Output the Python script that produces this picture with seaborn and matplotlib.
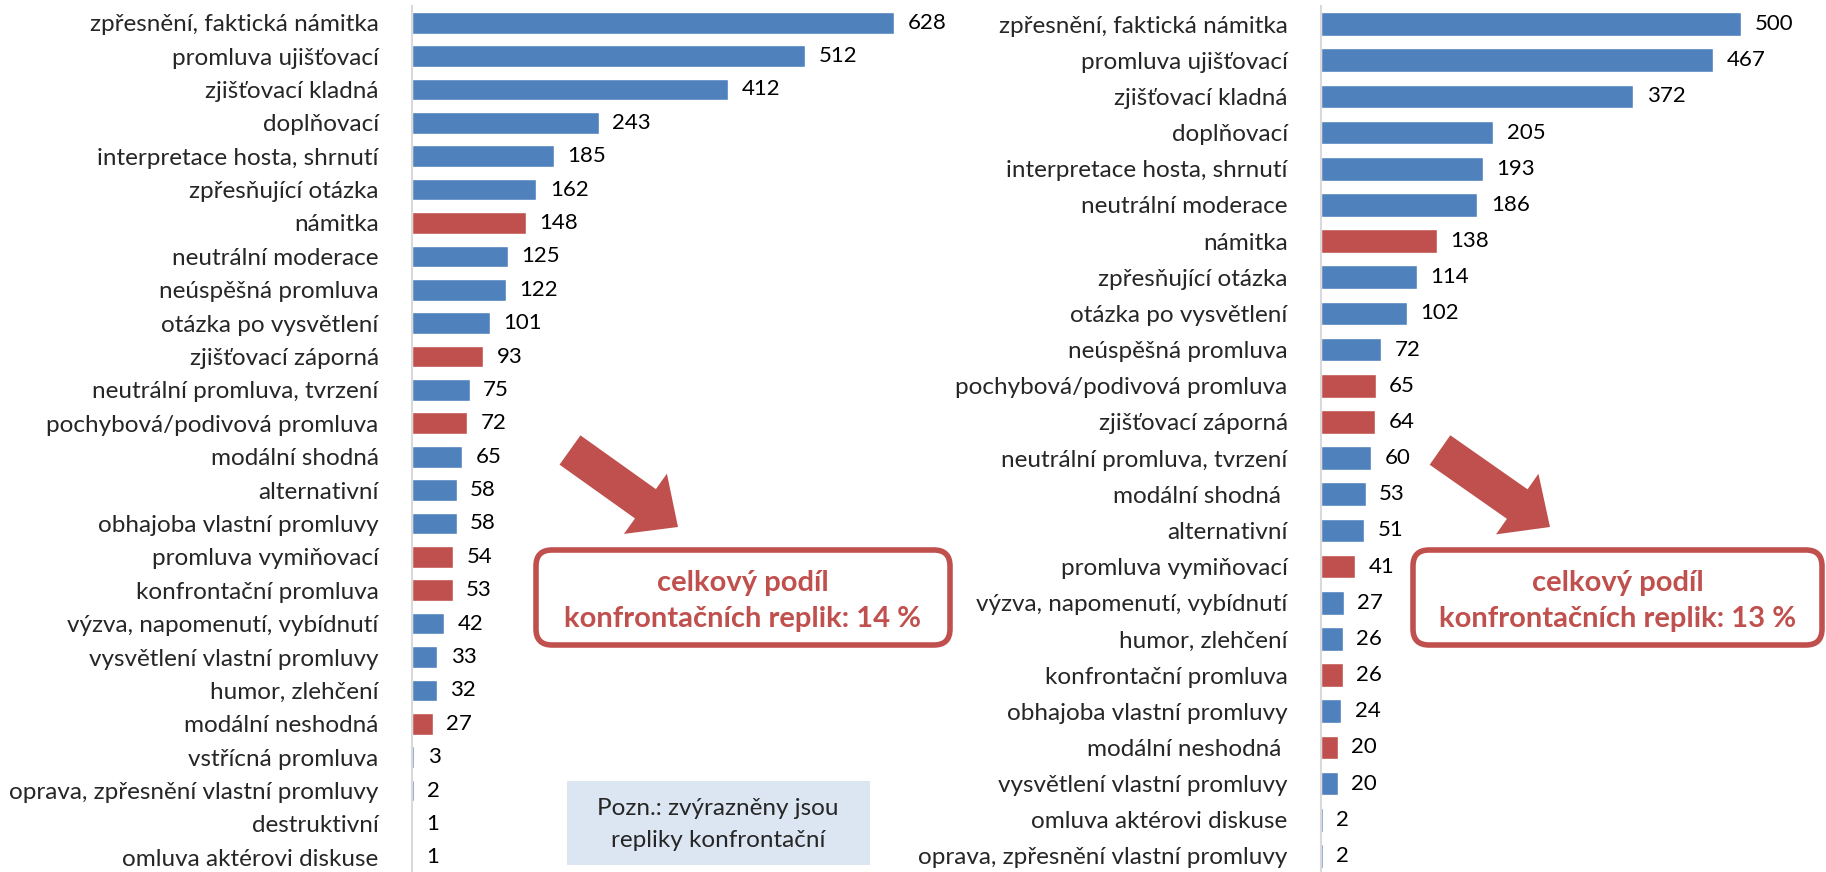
import matplotlib
matplotlib.use('Agg')
import matplotlib.pyplot as plt
import seaborn as sns
from matplotlib.patches import FancyArrow, FancyBboxPatch, Rectangle

BLUE = '#4F81BD'
RED = '#C0504D'

# left panel
left_labels = ['zpřesnění, faktická námitka', 'promluva ujišťovací', 'zjišťovací kladná',
               'doplňovací', 'interpretace hosta, shrnutí', 'zpřesňující otázka', 'námitka',
               'neutrální moderace', 'neúspěšná promluva', 'otázka po vysvětlení',
               'zjišťovací záporná', 'neutrální promluva, tvrzení', 'pochybová/podivová promluva',
               'modální shodná', 'alternativní', 'obhajoba vlastní promluvy', 'promluva vymiňovací',
               'konfrontační promluva', 'výzva, napomenutí, vybídnutí', 'vysvětlení vlastní promluvy',
               'humor, zlehčení', 'modální neshodná', 'vstřícná promluva',
               'oprava, zpřesnění vlastní promluvy', 'destruktivní', 'omluva aktérovi diskuse']
left_values = [628, 512, 412, 243, 185, 162, 148, 125, 122, 101, 93, 75, 72, 65, 58, 58, 54, 53,
               42, 33, 32, 27, 3, 2, 1, 1]
left_confront = [0, 0, 0, 0, 0, 0, 1, 0, 0, 0, 1, 0, 1, 0, 0, 0, 1, 1, 0, 0, 0, 1, 0, 0, 0, 0]

# right panel
right_labels = ['zpřesnění, faktická námitka', 'promluva ujišťovací', 'zjišťovací kladná',
                'doplňovací', 'interpretace hosta, shrnutí', 'neutrální moderace', 'námitka',
                'zpřesňující otázka', 'otázka po vysvětlení', 'neúspěšná promluva',
                'pochybová/podivová promluva', 'zjišťovací záporná', 'neutrální promluva, tvrzení',
                'modální shodná ', 'alternativní', 'promluva vymiňovací',
                'výzva, napomenutí, vybídnutí', 'humor, zlehčení', 'konfrontační promluva',
                'obhajoba vlastní promluvy', 'modální neshodná ', 'vysvětlení vlastní promluvy',
                'omluva aktérovi diskuse', 'oprava, zpřesnění vlastní promluvy']
right_values = [500, 467, 372, 205, 193, 186, 138, 114, 102, 72, 65, 64, 60, 53, 51, 41, 27, 26,
                26, 24, 20, 20, 2, 2]
right_confront = [0, 0, 0, 0, 0, 0, 1, 0, 0, 0, 1, 1, 0, 0, 0, 1, 0, 0, 1, 0, 1, 0, 0, 0]

share_left = '14 %'
share_right = '13 %'

sns.set_style('white')
plt.rcParams['font.family'] = ['Lato', 'DejaVu Sans']

W, H = 1826, 872
fig = plt.figure(figsize=(W / 100, H / 100), dpi=100)


def panel(rect, labels, values, confront, xmax):
    ax = fig.add_axes(rect)
    colors = [RED if c else BLUE for c in confront]
    sns.barplot(x=values, y=labels, hue=labels, palette=colors, legend=False,
                orient='h', width=0.65, saturation=1, ax=ax)
    ax.set_xlim(0, xmax)
    ax.set_ylim(len(labels) - 0.5, -0.5)
    for i, v in enumerate(values):
        ax.text(v + xmax * 0.027, i, str(v), va='center', ha='left', fontsize=16, color='black')
    ax.set_xticks([])
    ax.set_xlabel('')
    ax.set_ylabel('')
    ax.tick_params(axis='y', length=0, pad=24, labelsize=17.5)
    for s in ['top', 'right', 'bottom']:
        ax.spines[s].set_visible(False)
    ax.spines['left'].set_color('#D9D9D9')
    ax.spines['left'].set_linewidth(1.5)
    return ax


# pixel-based placement: left axis at x=412, right axis at x=1321, rows from y=6 to y=874
top, bottom = 6, 874
rect_h = (bottom - top) / H
panel([412 / W, 1 - bottom / H, 500 / W, rect_h], left_labels, left_values, left_confront, 500 / 0.768)
panel([1321 / W, 1 - bottom / H, 500 / W, rect_h], right_labels, right_values, right_confront, 500 / 0.84)

# overlay in pixel coordinates for annotations
ov = fig.add_axes([0, 0, 1, 1])
ov.set_xlim(0, W)
ov.set_ylim(H, 0)
ov.axis('off')
ov.patch.set_alpha(0)

for (x0, y0, x1, y1) in [(570, 450, 678, 527), (1440, 450, 1550, 527)]:
    ov.add_patch(FancyArrow(x0, y0, x1 - x0, y1 - y0, width=36, head_width=74,
                            head_length=40, length_includes_head=True,
                            color=RED, lw=0))

for (bx0, bx1, share) in [(536, 950, share_left), (1413, 1822, share_right)]:
    ov.add_patch(FancyBboxPatch((bx0, 550), bx1 - bx0, 95,
                                boxstyle='round,pad=0,rounding_size=16',
                                fc='white', ec=RED, lw=4))
    cx = (bx0 + bx1) / 2
    ov.text(cx, 583, 'celkový podíl', ha='center', va='center', fontsize=21,
            fontweight='bold', color=RED)
    ov.text(cx, 619, 'konfrontačních replik: ' + share, ha='center', va='center',
            fontsize=21, fontweight='bold', color=RED)

ov.add_patch(Rectangle((567, 781), 303, 84, fc='#DCE6F2', ec='none'))
ov.text(718, 808, 'Pozn.: zvýrazněny jsou', ha='center', va='center', fontsize=17.5)
ov.text(718, 840, 'repliky konfrontační', ha='center', va='center', fontsize=17.5)

fig.savefig('out.png', dpi=100)
